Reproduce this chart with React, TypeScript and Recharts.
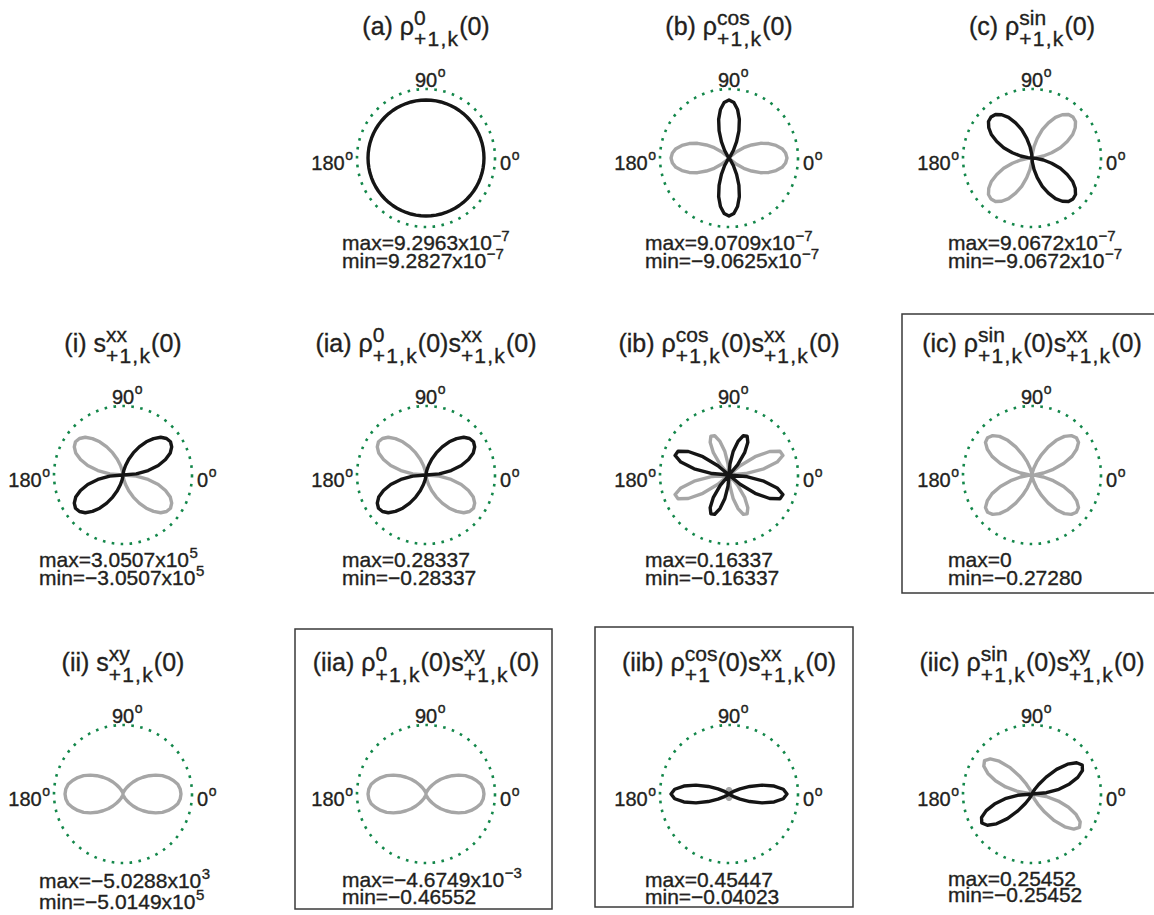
import { PolarAngleAxis, PolarGrid, PolarRadiusAxis, Radar, RadarChart } from 'recharts';

// sample angles (degrees, counter-clockwise from east)
const ANGLES = [
  0, 5, 10, 15, 20, 25, 30, 35, 40, 45, 50, 55, 60, 65, 70, 75, 80, 85,
  90, 95, 100, 105, 110, 115, 120, 125, 130, 135, 140, 145, 150, 155, 160, 165, 170, 175,
  180, 185, 190, 195, 200, 205, 210, 215, 220, 225, 230, 235, 240, 245, 250, 255, 260, 265,
  270, 275, 280, 285, 290, 295, 300, 305, 310, 315, 320, 325, 330, 335, 340, 345, 350, 355,
];

// signed values, normalised to each panel's largest |value|
const RHO0 = [
  1, 1, 1, 1, 1, 1, 1, 1, 1, 1, 1, 1, 1, 1, 1, 1, 1, 1, 1, 1, 1, 1, 1, 1, 1, 1, 1, 1, 1, 1, 1, 1, 1, 1, 1, 1,
  1, 1, 1, 1, 1, 1, 1, 1, 1, 1, 1, 1, 1, 1, 1, 1, 1, 1, 1, 1, 1, 1, 1, 1, 1, 1, 1, 1, 1, 1, 1, 1, 1, 1, 1, 1,
];
const RHO_COS = [
  -1, -0.98, -0.93, -0.84, -0.73, -0.6, -0.45, -0.31, -0.17, -0.06, 0, 0.04, 0.15, 0.31, 0.5, 0.69, 0.85, 0.96,
  1, 0.96, 0.85, 0.69, 0.5, 0.31, 0.15, 0.04, 0, -0.06, -0.17, -0.31, -0.45, -0.6, -0.73, -0.84, -0.93, -0.98,
  -1, -0.98, -0.93, -0.84, -0.73, -0.6, -0.45, -0.31, -0.17, -0.06, 0, 0.04, 0.15, 0.31, 0.5, 0.69, 0.85, 0.96,
  1, 0.96, 0.85, 0.69, 0.5, 0.31, 0.15, 0.04, 0, -0.06, -0.17, -0.31, -0.45, -0.6, -0.73, -0.84, -0.93, -0.98,
];
const RHO_SIN = [
  0, -0.07, -0.2, -0.35, -0.52, -0.67, -0.81, -0.91, -0.98, -1, -0.98, -0.91, -0.81, -0.67, -0.52, -0.35, -0.2, -0.07,
  0, 0.07, 0.2, 0.35, 0.52, 0.67, 0.81, 0.91, 0.98, 1, 0.98, 0.91, 0.81, 0.67, 0.52, 0.35, 0.2, 0.07,
  0, -0.07, -0.2, -0.35, -0.52, -0.67, -0.81, -0.91, -0.98, -1, -0.98, -0.91, -0.81, -0.67, -0.52, -0.35, -0.2, -0.07,
  0, 0.07, 0.2, 0.35, 0.52, 0.67, 0.81, 0.91, 0.98, 1, 0.98, 0.91, 0.81, 0.67, 0.52, 0.35, 0.2, 0.07,
];
const S_XX = [
  0, 0.23, 0.44, 0.63, 0.78, 0.9, 0.97, 1, 0.98, 0.92, 0.82, 0.7, 0.56, 0.42, 0.29, 0.17, 0.08, 0.02,
  0, -0.02, -0.08, -0.17, -0.29, -0.42, -0.56, -0.7, -0.82, -0.92, -0.98, -1, -0.97, -0.9, -0.78, -0.63, -0.44, -0.23,
  0, 0.23, 0.44, 0.63, 0.78, 0.9, 0.97, 1, 0.98, 0.92, 0.82, 0.7, 0.56, 0.42, 0.29, 0.17, 0.08, 0.02,
  0, -0.02, -0.08, -0.17, -0.29, -0.42, -0.56, -0.7, -0.82, -0.92, -0.98, -1, -0.97, -0.9, -0.78, -0.63, -0.44, -0.23,
];
const RHO0_SXX = [
  0, 0.23, 0.44, 0.63, 0.78, 0.9, 0.97, 1, 0.98, 0.92, 0.82, 0.7, 0.56, 0.42, 0.29, 0.17, 0.08, 0.02,
  0, -0.02, -0.08, -0.17, -0.29, -0.42, -0.56, -0.7, -0.82, -0.92, -0.98, -1, -0.97, -0.9, -0.78, -0.63, -0.44, -0.23,
  0, 0.23, 0.44, 0.63, 0.78, 0.9, 0.97, 1, 0.98, 0.92, 0.82, 0.7, 0.56, 0.42, 0.29, 0.17, 0.08, 0.02,
  0, -0.02, -0.08, -0.17, -0.29, -0.42, -0.56, -0.7, -0.82, -0.92, -0.98, -1, -0.97, -0.9, -0.78, -0.63, -0.44, -0.23,
];
const RHOCOS_SXX = [
  0, -0.29, -0.61, -0.86, -0.99, -0.97, -0.81, -0.55, -0.25, 0, 0.23, 0.47, 0.65, 0.74, 0.72, 0.6, 0.41, 0.19,
  0, -0.19, -0.41, -0.6, -0.72, -0.74, -0.65, -0.47, -0.23, 0, 0.25, 0.55, 0.81, 0.97, 0.99, 0.86, 0.61, 0.29,
  0, -0.29, -0.61, -0.86, -0.99, -0.97, -0.81, -0.55, -0.25, 0, 0.23, 0.47, 0.65, 0.74, 0.72, 0.6, 0.41, 0.19,
  0, -0.19, -0.41, -0.6, -0.72, -0.74, -0.65, -0.47, -0.23, 0, 0.25, 0.55, 0.81, 0.97, 0.99, 0.86, 0.61, 0.29,
];
const RHOSIN_SXX = [
  0, -0.06, -0.2, -0.38, -0.58, -0.76, -0.89, -0.98, -1, -0.96, -0.87, -0.73, -0.56, -0.39, -0.24, -0.12, -0.05, -0.01,
  0, -0.01, -0.05, -0.12, -0.24, -0.39, -0.56, -0.73, -0.87, -0.96, -1, -0.98, -0.89, -0.76, -0.58, -0.38, -0.2, -0.06,
  0, -0.06, -0.2, -0.38, -0.58, -0.76, -0.89, -0.98, -1, -0.96, -0.87, -0.73, -0.56, -0.39, -0.24, -0.12, -0.05, -0.01,
  0, -0.01, -0.05, -0.12, -0.24, -0.39, -0.56, -0.73, -0.87, -0.96, -1, -0.98, -0.89, -0.76, -0.58, -0.38, -0.2, -0.06,
];
const S_XY = [
  -1, -0.99, -0.96, -0.9, -0.83, -0.75, -0.65, -0.55, -0.45, -0.36, -0.27, -0.19, -0.13, -0.08, -0.05, -0.03, -0.02, -0.01,
  -0.01, -0.01, -0.02, -0.03, -0.05, -0.08, -0.13, -0.19, -0.27, -0.36, -0.45, -0.55, -0.65, -0.75, -0.83, -0.9, -0.96, -0.99,
  -1, -0.99, -0.96, -0.9, -0.83, -0.75, -0.65, -0.55, -0.45, -0.36, -0.27, -0.19, -0.13, -0.08, -0.05, -0.03, -0.02, -0.01,
  -0.01, -0.01, -0.02, -0.03, -0.05, -0.08, -0.13, -0.19, -0.27, -0.36, -0.45, -0.55, -0.65, -0.75, -0.83, -0.9, -0.96, -0.99,
];
const RHO0_SXY = [
  -1, -0.99, -0.96, -0.9, -0.83, -0.75, -0.65, -0.55, -0.45, -0.36, -0.27, -0.19, -0.13, -0.08, -0.05, -0.03, -0.02, -0.01,
  -0.01, -0.01, -0.02, -0.03, -0.05, -0.08, -0.13, -0.19, -0.27, -0.36, -0.45, -0.55, -0.65, -0.75, -0.83, -0.9, -0.96, -0.99,
  -1, -0.99, -0.96, -0.9, -0.83, -0.75, -0.65, -0.55, -0.45, -0.36, -0.27, -0.19, -0.13, -0.08, -0.05, -0.03, -0.02, -0.01,
  -0.01, -0.01, -0.02, -0.03, -0.05, -0.08, -0.13, -0.19, -0.27, -0.36, -0.45, -0.55, -0.65, -0.75, -0.83, -0.9, -0.96, -0.99,
];
const RHOCOS1_SXX = [
  1, 0.94, 0.79, 0.59, 0.38, 0.21, 0.09, 0.02, -0.02, -0.04, -0.05, -0.06, -0.07, -0.07, -0.08, -0.08, -0.09, -0.09,
  -0.09, -0.09, -0.09, -0.08, -0.08, -0.07, -0.07, -0.06, -0.05, -0.04, -0.02, 0.02, 0.09, 0.21, 0.38, 0.59, 0.79, 0.94,
  1, 0.94, 0.79, 0.59, 0.38, 0.21, 0.09, 0.02, -0.02, -0.04, -0.05, -0.06, -0.07, -0.07, -0.08, -0.08, -0.09, -0.09,
  -0.09, -0.09, -0.09, -0.08, -0.08, -0.07, -0.07, -0.06, -0.05, -0.04, -0.02, 0.02, 0.09, 0.21, 0.38, 0.59, 0.79, 0.94,
];
const RHOSIN_SXY = [
  0, 0.25, 0.47, 0.67, 0.84, 0.96, 1, 0.94, 0.8, 0.6, 0.38, 0.2, 0.09, 0.03, 0.01, 0, 0, 0,
  0, 0, 0, -0.01, -0.03, -0.09, -0.2, -0.38, -0.6, -0.8, -0.94, -1, -0.96, -0.84, -0.67, -0.47, -0.25, 0,
  0, 0.25, 0.47, 0.67, 0.84, 0.96, 1, 0.94, 0.8, 0.6, 0.38, 0.2, 0.09, 0.03, 0.01, 0, 0, 0,
  0, 0, 0, -0.01, -0.03, -0.09, -0.2, -0.38, -0.6, -0.8, -0.94, -1, -0.96, -0.84, -0.67, -0.47, -0.25, 0,
];

type Part = { t: string } | { sup: string; sub: string };

const RHO = 'ρ';
const TITLES: Record<string, Part[]> = {
  a: [{ t: `(a) ${RHO}` }, { sup: '0', sub: '+1,k' }, { t: '(0)' }],
  b: [{ t: `(b) ${RHO}` }, { sup: 'cos', sub: '+1,k' }, { t: '(0)' }],
  c: [{ t: `(c) ${RHO}` }, { sup: 'sin', sub: '+1,k' }, { t: '(0)' }],
  i: [{ t: '(i) s' }, { sup: 'xx', sub: '+1,k' }, { t: '(0)' }],
  ia: [{ t: `(ia) ${RHO}` }, { sup: '0', sub: '+1,k' }, { t: '(0)s' }, { sup: 'xx', sub: '+1,k' }, { t: '(0)' }],
  ib: [{ t: `(ib) ${RHO}` }, { sup: 'cos', sub: '+1,k' }, { t: '(0)s' }, { sup: 'xx', sub: '+1,k' }, { t: '(0)' }],
  ic: [{ t: `(ic) ${RHO}` }, { sup: 'sin', sub: '+1,k' }, { t: '(0)s' }, { sup: 'xx', sub: '+1,k' }, { t: '(0)' }],
  ii: [{ t: '(ii) s' }, { sup: 'xy', sub: '+1,k' }, { t: '(0)' }],
  iia: [{ t: `(iia) ${RHO}` }, { sup: '0', sub: '+1,k' }, { t: '(0)s' }, { sup: 'xy', sub: '+1,k' }, { t: '(0)' }],
  iib: [{ t: `(iib) ${RHO}` }, { sup: 'cos', sub: '+1' }, { t: '(0)s' }, { sup: 'xx', sub: '+1,k' }, { t: '(0)' }],
  iic: [{ t: `(iic) ${RHO}` }, { sup: 'sin', sub: '+1,k' }, { t: '(0)s' }, { sup: 'xy', sub: '+1,k' }, { t: '(0)' }],
};

// [text, exponent]
const MAX_LABELS: Record<string, [string, string]> = {
  a: ['max=9.2963x10', '−7'],
  b: ['max=9.0709x10', '−7'],
  c: ['max=9.0672x10', '−7'],
  i: ['max=3.0507x10', '5'],
  ia: ['max=0.28337', ''],
  ib: ['max=0.16337', ''],
  ic: ['max=0', ''],
  ii: ['max=−5.0288x10', '3'],
  iia: ['max=−4.6749x10', '−3'],
  iib: ['max=0.45447', ''],
  iic: ['max=0.25452', ''],
};
const MIN_LABELS: Record<string, [string, string]> = {
  a: ['min=9.2827x10', '−7'],
  b: ['min=−9.0625x10', '−7'],
  c: ['min=−9.0672x10', '−7'],
  i: ['min=−3.0507x10', '5'],
  ia: ['min=−0.28337', ''],
  ib: ['min=−0.16337', ''],
  ic: ['min=−0.27280', ''],
  ii: ['min=−5.0149x10', '5'],
  iia: ['min=−0.46552', ''],
  iib: ['min=−0.04023', ''],
  iic: ['min=−0.25452', ''],
};

const VALUES: Record<string, number[]> = {
  a: RHO0, b: RHO_COS, c: RHO_SIN,
  i: S_XX, ia: RHO0_SXX, ib: RHOCOS_SXX, ic: RHOSIN_SXX,
  ii: S_XY, iia: RHO0_SXY, iib: RHOCOS1_SXX, iic: RHOSIN_SXY,
};

// layout
const COL_X = [123, 426, 729, 1032];
const ROW_Y = [158, 475, 794];
const CELLS: { id: string; col: number; row: number; box?: [number, number, number, number]; textDy?: [number, number] }[] = [
  { id: 'a', col: 1, row: 0 },
  { id: 'b', col: 2, row: 0 },
  { id: 'c', col: 3, row: 0 },
  { id: 'i', col: 0, row: 1 },
  { id: 'ia', col: 1, row: 1 },
  { id: 'ib', col: 2, row: 1 },
  { id: 'ic', col: 3, row: 1, box: [902, 314, 1162, 593] },
  { id: 'ii', col: 0, row: 2, textDy: [94, 115] },
  { id: 'iia', col: 1, row: 2, box: [295, 629, 552, 909], textDy: [93, 110] },
  { id: 'iib', col: 2, row: 2, box: [595, 627, 853, 907], textDy: [93, 110] },
  { id: 'iic', col: 3, row: 2, textDy: [92, 108] },
];

const FONT = '"Liberation Sans", Arial, Helvetica, sans-serif';
const INK = '#231f20';
const POS_COLOR = '#151515';
const NEG_COLOR = '#a6a6a6';
const GRID_GREEN = '#13874a';
const R = 69;
const TEXT_STROKE = 0.35;

function AngleTick(props: any) {
  const { x, y, payload } = props;
  const v = Math.round(Number(payload?.value));
  const common = { fontFamily: FONT, fontSize: 20, fill: INK, stroke: INK, strokeWidth: TEXT_STROKE };
  if (v === 90) {
    return (
      <text x={x - 11} y={y + 6} {...common}>
        90<tspan fontSize={14} dy={-10} dx={0.5}>o</tspan>
      </text>
    );
  }
  if (v === 180) {
    return (
      <text x={x + 4} y={y + 12} textAnchor="end" {...common}>
        180<tspan fontSize={14} dy={-10} dx={0.5}>o</tspan>
      </text>
    );
  }
  if (v === 0) {
    return (
      <text x={x - 3} y={y + 12} {...common}>
        0<tspan fontSize={14} dy={-10} dx={0.5}>o</tspan>
      </text>
    );
  }
  return <g />;
}

function PolarPanel({ values }: { values: number[] }) {
  const rows = ANGLES.map((angle, i) => ({
    angle,
    pos: Math.max(values[i], 0),
    neg: Math.max(-values[i], 0),
  }));
  const hasPos = rows.some((r) => r.pos > 0);
  const hasNeg = rows.some((r) => r.neg > 0);
  return (
    <RadarChart
      width={300}
      height={200}
      cx={150}
      cy={100}
      outerRadius={R}
      startAngle={0}
      endAngle={360}
      data={rows}
      margin={{ top: 0, right: 0, bottom: 0, left: 0 }}
    >
      <PolarGrid
        gridType="circle"
        radialLines={false}
        polarRadius={[R]}
        polarAngles={[]}
        stroke={GRID_GREEN}
        strokeWidth={2.6}
        strokeDasharray="2.6 6.4"
      />
      <PolarAngleAxis
        dataKey="angle"
        type="number"
        domain={[0, 360]}
        tickCount={5}
        axisLine={false}
        tickLine={false}
        tick={AngleTick}
      />
      <PolarRadiusAxis type="number" domain={[0, 1.19]} tick={false} axisLine={false} />
      {hasNeg && (
        <Radar
          dataKey="neg"
          stroke={NEG_COLOR}
          strokeWidth={3.4}
          strokeLinejoin="round"
          fill="none"
          dot={false}
          isAnimationActive={false}
        />
      )}
      {hasPos && (
        <Radar
          dataKey="pos"
          stroke={POS_COLOR}
          strokeWidth={3.4}
          strokeLinejoin="round"
          fill="none"
          dot={false}
          isAnimationActive={false}
        />
      )}
    </RadarChart>
  );
}

function Title({ parts, cx, cy }: { parts: Part[]; cx: number; cy: number }) {
  return (
    <div
      style={{
        position: 'absolute',
        left: cx - 170,
        width: 340,
        top: cy - 150.8,
        textAlign: 'center',
        fontFamily: FONT,
        fontSize: 25,
        lineHeight: '25px',
        color: INK,
        whiteSpace: 'nowrap',
        WebkitTextStroke: `${TEXT_STROKE}px ${INK}`,
      }}
    >
      {parts.map((p, i) =>
        't' in p ? (
          <span key={i}>{p.t}</span>
        ) : (
          <span
            key={i}
            style={{ display: 'inline-block', verticalAlign: -11, textAlign: 'left', fontSize: 21, lineHeight: '21px' }}
          >
            <span style={{ display: 'block' }}>{p.sup}</span>
            <span style={{ display: 'block', letterSpacing: 1.2 }}>{p.sub}</span>
          </span>
        ),
      )}
    </div>
  );
}

function Label({ x, y, text }: { x: number; y: number; text: [string, string] }) {
  return (
    <text x={x} y={y} fontFamily={FONT} fontSize={21} fill={INK} stroke={INK} strokeWidth={TEXT_STROKE}>
      {text[0]}
      {text[1] && (
        <tspan fontSize={15} dy={-9} dx={0.5}>
          {text[1]}
        </tspan>
      )}
    </text>
  );
}

export default function App() {
  return (
    <div
      style={{ position: 'absolute', left: 0, top: 0, width: 1154, height: 915, background: '#fff', overflow: 'hidden' }}
    >
      {CELLS.map((c) => {
        const cx = COL_X[c.col];
        const cy = ROW_Y[c.row];
        return (
          <div key={c.id} style={{ position: 'absolute', left: cx - 150, top: cy - 100, width: 300, height: 200 }}>
            <PolarPanel values={VALUES[c.id]} />
          </div>
        );
      })}
      {CELLS.map((c) => (
        <Title key={`t-${c.id}`} parts={TITLES[c.id]} cx={COL_X[c.col]} cy={ROW_Y[c.row]} />
      ))}
      <svg
        width={1154}
        height={915}
        style={{ position: 'absolute', left: 0, top: 0, pointerEvents: 'none' }}
      >
        {CELLS.filter((c) => c.box).map((c) => {
          const [x1, y1, x2, y2] = c.box!;
          return (
            <rect key={`b-${c.id}`} x={x1} y={y1} width={x2 - x1} height={y2 - y1} fill="none" stroke="#3a3a3a" strokeWidth={1.5} />
          );
        })}
        {CELLS.map((c) => {
          const cx = COL_X[c.col];
          const cy = ROW_Y[c.row];
          const [d1, d2] = c.textDy ?? [92, 110];
          return (
            <g key={`l-${c.id}`}>
              <Label x={cx - 84} y={cy + d1} text={MAX_LABELS[c.id]} />
              <Label x={cx - 84} y={cy + d2} text={MIN_LABELS[c.id]} />
            </g>
          );
        })}
      </svg>
    </div>
  );
}
